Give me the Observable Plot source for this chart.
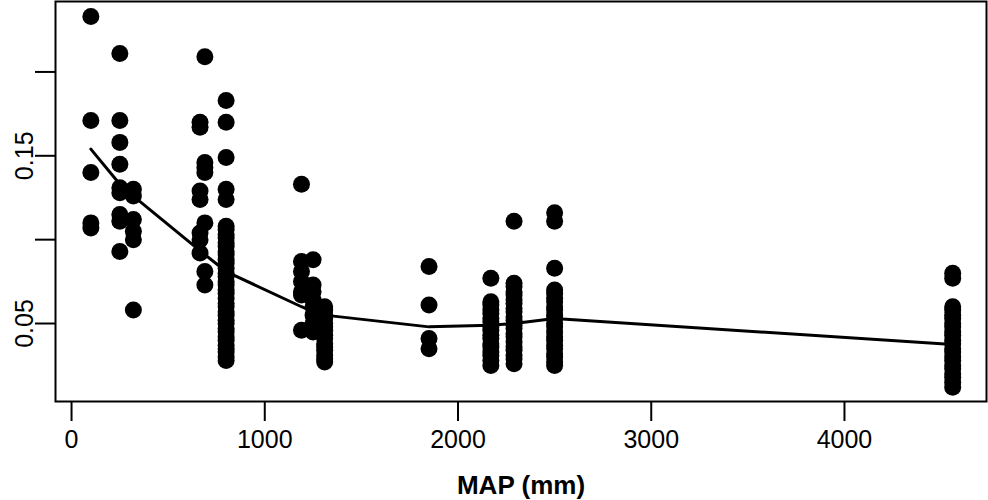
<!DOCTYPE html>
<html>
<head>
<meta charset="utf-8">
<script src="https://cdn.jsdelivr.net/npm/d3@7"></script>
<script src="https://cdn.jsdelivr.net/npm/@observablehq/plot@0.6"></script>
<style>
  html, body { margin: 0; padding: 0; background: white; }
</style>
</head>
<body>
<div id="chart"></div>
<script>
// Site mean annual precipitation (mm)
const siteMAP = [100, 250, 320, 665, 690, 800, 1190, 1250, 1310, 1850, 2170, 2290, 2500, 4560];
// Observed values at each site
const siteValues = [
  [0.233, 0.171, 0.140, 0.110, 0.107],
  [0.211, 0.171, 0.158, 0.145, 0.131, 0.128, 0.115, 0.111, 0.093],
  [0.130, 0.126, 0.112, 0.105, 0.100, 0.058],
  [0.170, 0.167, 0.129, 0.124, 0.104, 0.100, 0.092],
  [0.209, 0.146, 0.143, 0.140, 0.110, 0.081, 0.073],
  [0.183, 0.170, 0.149, 0.130, 0.124, 0.108, 0.106, 0.103, 0.101, 0.098, 0.096, 0.093, 0.091, 0.088, 0.086, 0.083, 0.080, 0.078, 0.075, 0.073, 0.070, 0.068, 0.065, 0.062, 0.060, 0.057, 0.055, 0.052, 0.050, 0.047, 0.045, 0.042, 0.040, 0.037, 0.035, 0.033, 0.030, 0.028],
  [0.133, 0.087, 0.081, 0.075, 0.069, 0.067, 0.046],
  [0.088, 0.073, 0.069, 0.064, 0.060, 0.055, 0.050, 0.045],
  [0.060, 0.058, 0.055, 0.053, 0.050, 0.048, 0.046, 0.043, 0.041, 0.038, 0.036, 0.034, 0.031, 0.029, 0.027],
  [0.084, 0.061, 0.041, 0.035],
  [0.077, 0.063, 0.061, 0.058, 0.056, 0.053, 0.051, 0.048, 0.046, 0.043, 0.041, 0.038, 0.036, 0.033, 0.031, 0.028, 0.025],
  [0.111, 0.074, 0.072, 0.069, 0.067, 0.064, 0.062, 0.059, 0.057, 0.054, 0.052, 0.049, 0.047, 0.044, 0.042, 0.039, 0.036, 0.034, 0.031, 0.029, 0.026],
  [0.116, 0.111, 0.083, 0.070, 0.068, 0.065, 0.063, 0.060, 0.058, 0.055, 0.053, 0.050, 0.048, 0.045, 0.042, 0.040, 0.037, 0.035, 0.032, 0.030, 0.027, 0.025],
  [0.080, 0.077, 0.060, 0.058, 0.055, 0.053, 0.050, 0.048, 0.045, 0.043, 0.040, 0.038, 0.035, 0.033, 0.030, 0.028, 0.025, 0.023, 0.020, 0.018, 0.015, 0.012]
];
// Fitted line
const lineMAP = [100, 250, 320, 680, 800, 1190, 1250, 1310, 1850, 2170, 2290, 2500, 4560];
const lineValues = [0.154, 0.133, 0.126, 0.092, 0.081, 0.060, 0.057, 0.055, 0.048, 0.049, 0.050, 0.053, 0.0375];
// Axes
const xTicks = [0, 1000, 2000, 3000, 4000];
const yTicks = [0.05, 0.10, 0.15, 0.20];
const yTickLabels = ["0.05", "", "0.15", ""];
const xLabel = "MAP (mm)";

const points = siteMAP.flatMap((m, i) => siteValues[i].map(v => ({map: m, value: v})));
const line = lineMAP.map((m, i) => ({map: m, value: lineValues[i]}));
const yLabelData = yTicks.map((t, i) => ({t, label: yTickLabels[i]}));

const chart = Plot.plot({
  width: 988,
  height: 500,
  marginLeft: 55,
  marginRight: 2,
  marginTop: 1,
  marginBottom: 99,
  style: {fontFamily: "'Liberation Sans', Arial, Helvetica, sans-serif", fontSize: "25px", background: "white", color: "black"},
  x: {domain: [-83, 4735], label: null},
  y: {domain: [0.0035, 0.242], label: null},
  marks: [
    Plot.axisX({ticks: xTicks, tickSize: 20, tickPadding: 9, fontSize: 25, strokeWidth: 2, label: null, tickFormat: d => String(d)}),
    Plot.axisY({ticks: yTicks, tickSize: 20, strokeWidth: 2, label: null, tickFormat: () => ""}),
    Plot.text(yLabelData, {y: "t", text: "label", frameAnchor: "left", dx: -23, rotate: -90, textAnchor: "middle", lineAnchor: "bottom", fontSize: 25}),
    Plot.dot(points, {x: "map", y: "value", r: 8.5, fill: "black", stroke: "none"}),
    Plot.line(line, {x: "map", y: "value", stroke: "black", strokeWidth: 3}),
    Plot.frame({stroke: "black", strokeWidth: 2}),
    Plot.text([xLabel], {text: d => d, frameAnchor: "bottom", dy: 84, lineAnchor: "middle", fontSize: 26, fontWeight: "bold"})
  ]
});
document.getElementById("chart").appendChild(chart);
</script>
</body>
</html>
